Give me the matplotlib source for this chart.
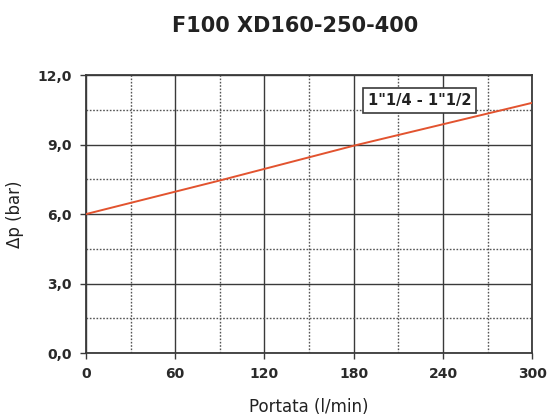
import matplotlib.pyplot as plt
from matplotlib.ticker import MultipleLocator

# dati
portata = [0, 90, 180, 300]
delta_p = [6.0, 7.45, 8.95, 10.8]
x_ticks = [0, 60, 120, 180, 240, 300]
y_ticks = [0.0, 3.0, 6.0, 9.0, 12.0]
serie = '1"1/4 - 1"1/2'

fig = plt.figure(figsize=(5.47, 4.19), dpi=100)
ax = fig.add_axes([0.157, 0.157, 0.816, 0.664])

ax.plot(portata, delta_p, color="#e2532f", linewidth=1.4, zorder=3)

ax.set_xlim(0, 300)
ax.set_ylim(0, 12)
ax.set_xticks(x_ticks)
ax.set_yticks(y_ticks)
ax.set_xticklabels([str(v) for v in x_ticks])
ax.set_yticklabels([f"{v:.1f}".replace(".", ",") for v in y_ticks])
ax.xaxis.set_minor_locator(MultipleLocator(30))
ax.yaxis.set_minor_locator(MultipleLocator(1.5))

ax.grid(which="major", color="#3a3a3a", linewidth=1.0, linestyle="-")
ax.grid(which="minor", color="#555555", linewidth=1.0, linestyle=(0, (1.2, 1.2)))
ax.tick_params(which="major", length=4, width=1, color="#3a3a3a",
               labelsize=10, labelcolor="#2a2a2a", pad=6)
ax.tick_params(which="minor", length=0)
for lab in ax.get_xticklabels() + ax.get_yticklabels():
    lab.set_fontweight("semibold")
for s in ax.spines.values():
    s.set_color("#3a3a3a")
    s.set_linewidth(1.3)

ax.set_xlabel("Portata (l/min)", fontsize=12, color="#222222", labelpad=12)
ax.set_ylabel("Δp (bar)", fontsize=12, color="#222222", labelpad=10)
fig.suptitle("F100 XD160-250-400", x=0.54, y=0.963, fontsize=15,
             fontweight="bold", color="#222222")

ax.text(0.747, 0.908, serie, transform=ax.transAxes, ha="center", va="center",
        fontsize=10.5, fontweight="bold", color="#222222", zorder=4,
        bbox=dict(boxstyle="square,pad=0.32", facecolor="white",
                  edgecolor="#3a3a3a", linewidth=1.2))

fig.savefig("out.png", dpi=100)
